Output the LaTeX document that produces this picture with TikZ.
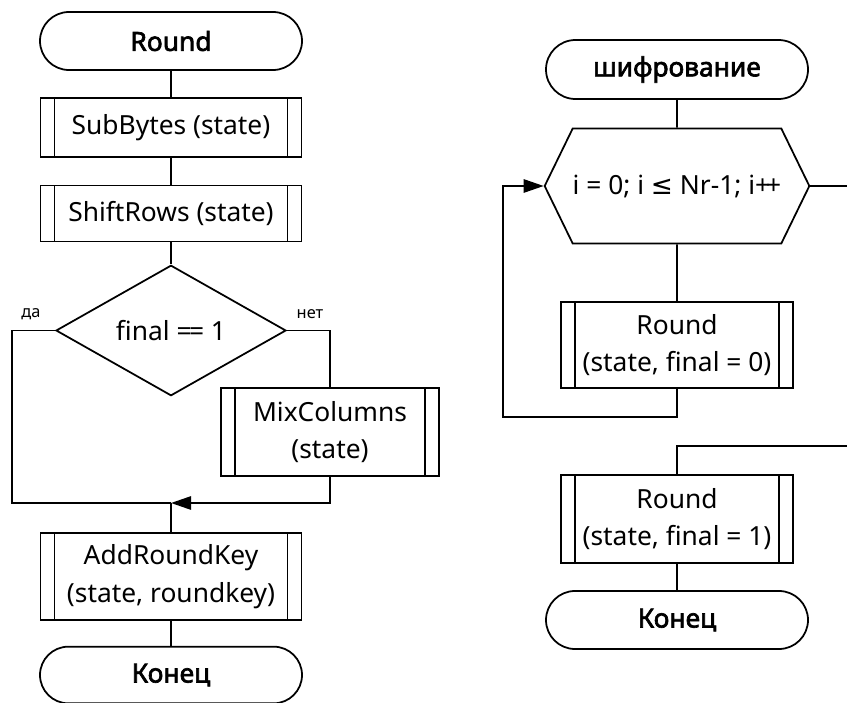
\documentclass[tikz,border=0pt]{standalone}
\usepackage{fontspec}
\setmainfont{Noto Sans}
\newfontfamily\titlefont[FakeBold=2.5]{Noto Sans}
\newfontfamily\symfont{DejaVu Sans}
\usetikzlibrary{shapes.geometric,shapes.misc,shapes.symbols,arrows.meta}

\begin{document}
\begin{tikzpicture}[x=0.3mm,y=-0.3mm,line width=1.5pt,
		font=\fontsize{22.5}{32}\selectfont,
		term/.style={draw, rounded rectangle, minimum width=78.6mm, minimum height=17.4mm, inner sep=0pt, font=\fontsize{22.5}{32}\selectfont\titlefont},
		proc/.style={draw, rectangle, minimum width=78.3mm, align=center, inner sep=0pt,
			path picture={
				\draw ([xshift=4.2mm]path picture bounding box.north west) -- ([xshift=4.2mm]path picture bounding box.south west);
				\draw ([xshift=-4.2mm]path picture bounding box.north east) -- ([xshift=-4.2mm]path picture bounding box.south east);}},
		cond/.style={draw, diamond, minimum width=69mm, minimum height=34.5mm, inner sep=0pt},
		forloop/.style={draw, signal, signal to=west and east, signal pointer angle=128, minimum width=69.3mm, minimum height=34.5mm, inner sep=0pt},
		lbl/.style={font=\fontsize{14}{16}\selectfont},
		arr/.style={-{Triangle[length=6mm,width=4mm]}}]
	\useasboundingbox (0,0) rectangle (847,703);

	% Round
	\node	(roundT) at (171,41) [term] {Round};
	\node	(subB) at (171,127.5) [proc, minimum height=17.7mm] {SubBytes (state)};
	\node	(shiftR) at (171,213.5) [proc, minimum height=16.8mm] {ShiftRows (state)};
	\node	(final) at (171,330.5) [cond] {final =\kern-.1em= 1};
	\node	(mixC) at (330,432) [proc, minimum width=65.4mm, minimum height=26.4mm] {MixColumns\\(state)};
	\node	(addK) at (171,576.5) [proc, minimum height=26.1mm] {AddRoundKey\\(state, roundkey)};
	\node	(endL) at (171,675) [term, minimum height=17mm] {Конец};

	\node	(yesL) at (31,314) [lbl] {да};
	\node	(noL) at (310,314) [lbl] {нет};

	\coordinate (yes) at (12,330.5);
	\coordinate (join) at (171,503);

	\draw
	(roundT) edge (subB)
	(subB) edge (shiftR)
	(shiftR) edge (final)
	(join) edge (addK)
	(addK) edge (endL)
	;
	\draw (final.west) -- (yes) |- (join);
	\draw (final.east) -| (mixC.north);
	\draw[arr] (mixC.south) |- (join);

	% шифрование
	\node	(encT) at (677,69.5) [term, minimum height=17.7mm] {шифрование};
	\node	(loop) at (677,186) [forloop] {i = 0; i {\symfont ≤} Nr-1; i+\kern-.15em+};
	\node	(round0) at (677,345) [proc, minimum width=69.6mm, minimum height=25.8mm] {Round\\(state, final = 0)};
	\node	(round1) at (677,519) [proc, minimum width=69.6mm, minimum height=26.4mm] {Round\\(state, final = 1)};
	\node	(endR) at (677,620) [term] {Конец};

	\coordinate (back) at (503,417);
	\coordinate (out) at (847,186);
	\coordinate (in) at (847,446);

	\draw
	(encT) edge (loop)
	(loop) edge (round0)
	(round1) edge (endR)
	(loop.east) edge (out)
	;
	\draw[arr] (round0.south) |- (back) |- (loop.west);
	\draw (in) -| (round1.north);
\end{tikzpicture}
\end{document}
